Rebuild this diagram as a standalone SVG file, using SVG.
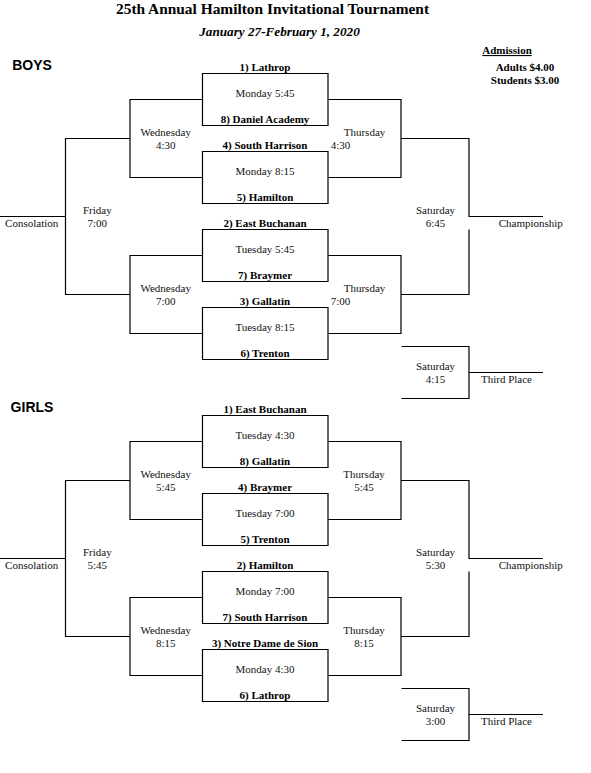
<svg xmlns="http://www.w3.org/2000/svg" xmlns:xlink="http://www.w3.org/1999/xlink" width="591" height="773" viewBox="0 0 591 773">
<style>
text{font-family:"Liberation Serif","Times New Roman",serif;font-size:11px;fill:#111;text-anchor:middle}
.b{font-weight:bold;fill:#000}
.title{font-size:15.4px;font-weight:bold;fill:#000}
.sub{font-size:13.2px;font-weight:bold;font-style:italic;fill:#000}
.sec{font-family:"Liberation Sans",Arial,sans-serif;font-size:14px;font-weight:bold;fill:#000}
.st{text-anchor:start}
.ln{fill:none;stroke:#000;stroke-width:1.2}
</style>
<defs>
<path id="bracket" d="M202.5 73.5H328V125.5H202.5Z M202.5 151.5H328V203.5H202.5Z M202.5 229.5H328V281.5H202.5Z M202.5 307.5H328V359.5H202.5Z M202.5 99.5H130V177.5H202.5 M202.5 255.5H130V333.5H202.5 M130 138.5H65.5V294.5H130 M65.5 216.5H0 M328 99.5H401V177.5H328 M328 255.5H401V333.5H328 M401 138.5H469V216.5H543 M469 229.5V294.5H401 M401.5 346.5H469V398.5H401.5 M469 372.5H543"/>
</defs>
<rect width="591" height="773" fill="#fff"/>
<g id="connectors" class="ln">
<use xlink:href="#bracket" href="#bracket"/>
<use xlink:href="#bracket" href="#bracket" y="342"/>
</g>
<g id="header">
<text class="title" x="272.5" y="13.5">25th Annual Hamilton Invitational Tournament</text>
<text class="sub" x="279.5" y="36">January 27-February 1, 2020</text>
<text class="b" x="507" y="54" text-decoration="underline">Admission</text>
<text class="b" x="525" y="71">Adults $4.00</text>
<text class="b" x="525" y="83.5">Students $3.00</text>
</g>
<g id="boys">
<text class="sec" x="32" y="70">BOYS</text>
<g id="b-g1"><text class="b" x="265" y="70.5">1) Lathrop</text><text x="265" y="96.5">Monday 5:45</text><text class="b" x="265" y="122.5">8) Daniel Academy</text></g>
<g id="b-g2"><text class="b" x="265" y="148.5">4) South Harrison</text><text x="265" y="174.5">Monday 8:15</text><text class="b" x="265" y="200.5">5) Hamilton</text></g>
<g id="b-g3"><text class="b" x="265" y="226.5">2) East Buchanan</text><text x="265" y="252.5">Tuesday 5:45</text><text class="b" x="265" y="278.5">7) Braymer</text></g>
<g id="b-g4"><text class="b" x="265" y="304.5">3) Gallatin</text><text x="265" y="330.5">Tuesday 8:15</text><text class="b" x="265" y="356.5">6) Trenton</text></g>
<g id="b-wed1"><text x="165.7" y="135.5">Wednesday</text><text x="165.7" y="148.5">4:30</text></g>
<g id="b-wed2"><text x="165.7" y="291.5">Wednesday</text><text x="165.7" y="304.5">7:00</text></g>
<g id="b-fri"><text x="97.3" y="213.5">Friday</text><text x="97.3" y="226.5">7:00</text></g>
<g id="b-cons"><text x="31.7" y="226.5">Consolation</text></g>
<g id="b-thu1"><text x="364.5" y="135.5">Thursday</text><text class="st" x="330.7" y="148.5">4:30</text></g>
<g id="b-thu2"><text x="364.5" y="291.5">Thursday</text><text class="st" x="330.7" y="304.5">7:00</text></g>
<g id="b-sat"><text x="435.5" y="213.5">Saturday</text><text x="435.5" y="226.5">6:45</text></g>
<g id="b-champ"><text x="530.8" y="226.5">Championship</text></g>
<g id="b-sat3"><text x="435.5" y="369.5">Saturday</text><text x="435.5" y="382.5">4:15</text></g>
<g id="b-third"><text x="506.5" y="382.5">Third Place</text></g>
</g>
<g id="girls">
<text class="sec" x="32" y="412">GIRLS</text>
<g id="g-g1"><text class="b" x="265" y="412.5">1) East Buchanan</text><text x="265" y="438.5">Tuesday 4:30</text><text class="b" x="265" y="464.5">8) Gallatin</text></g>
<g id="g-g2"><text class="b" x="265" y="490.5">4) Braymer</text><text x="265" y="516.5">Tuesday 7:00</text><text class="b" x="265" y="542.5">5) Trenton</text></g>
<g id="g-g3"><text class="b" x="265" y="568.5">2) Hamilton</text><text x="265" y="594.5">Monday 7:00</text><text class="b" x="265" y="620.5">7) South Harrison</text></g>
<g id="g-g4"><text class="b" x="265" y="646.5">3) Notre Dame de Sion</text><text x="265" y="672.5">Monday 4:30</text><text class="b" x="265" y="698.5">6) Lathrop</text></g>
<g id="g-wed1"><text x="165.7" y="477.5">Wednesday</text><text x="165.7" y="490.5">5:45</text></g>
<g id="g-wed2"><text x="165.7" y="633.5">Wednesday</text><text x="165.7" y="646.5">8:15</text></g>
<g id="g-fri"><text x="97.3" y="555.5">Friday</text><text x="97.3" y="568.5">5:45</text></g>
<g id="g-cons"><text x="31.7" y="568.5">Consolation</text></g>
<g id="g-thu1"><text x="364" y="477.5">Thursday</text><text x="364" y="490.5">5:45</text></g>
<g id="g-thu2"><text x="364" y="633.5">Thursday</text><text x="364" y="646.5">8:15</text></g>
<g id="g-sat"><text x="435.5" y="555.5">Saturday</text><text x="435.5" y="568.5">5:30</text></g>
<g id="g-champ"><text x="530.8" y="568.5">Championship</text></g>
<g id="g-sat3"><text x="435.5" y="711.5">Saturday</text><text x="435.5" y="724.5">3:00</text></g>
<g id="g-third"><text x="506.5" y="724.5">Third Place</text></g>
</g>
</svg>
